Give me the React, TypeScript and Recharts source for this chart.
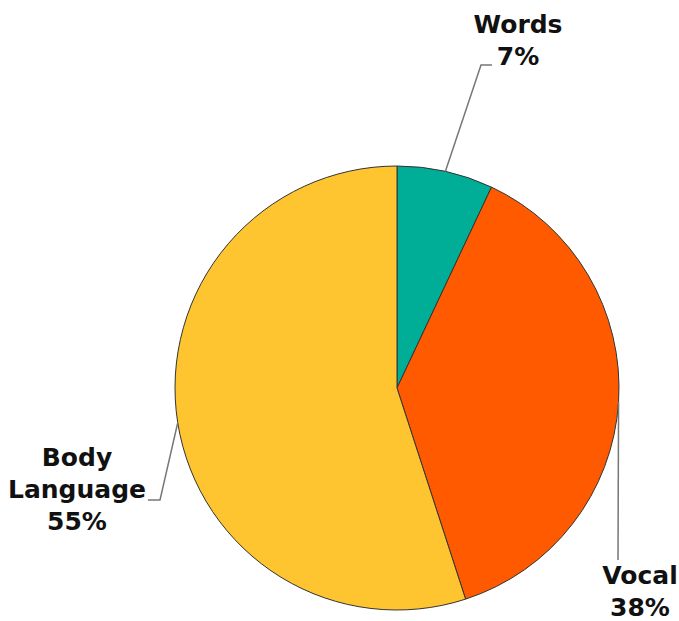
import { PieChart, Pie, Cell } from 'recharts';

const categories = ['Words', 'Vocal', 'Body Language'];
const shares = [7, 38, 55];
const COLORS = ['#00AE98', '#FF5A00', '#FFC530'];

// label placement: elbow point and text anchor, relative to chart center
const LABEL_LAYOUT = [
  { elbow: [84, -323], end: [95, -323], text: [121, -355], lines: ['Words'] },
  { elbow: [221, 172], end: [221, 172], text: [243, 196], lines: ['Vocal'] },
  { elbow: [-237, 112], end: [-249, 112], text: [-320, 78], lines: ['Body', 'Language'] },
];

const data = categories.map((name, i) => ({ name, value: shares[i] }));

const RADIAN = Math.PI / 180;
const LINE_H = 32;

function renderLabel(props: any) {
  const { cx, cy, midAngle, outerRadius, index, value } = props;
  const layout = LABEL_LAYOUT[index];
  const sx = cx + outerRadius * Math.cos(-midAngle * RADIAN);
  const sy = cy + outerRadius * Math.sin(-midAngle * RADIAN);
  const ex = cx + layout.elbow[0];
  const ey = cy + layout.elbow[1];
  const fx = cx + layout.end[0];
  const fy = cy + layout.end[1];
  const tx = cx + layout.text[0];
  const ty = cy + layout.text[1];
  const lines = [...layout.lines, `${value}%`];
  return (
    <g>
      <polyline
        points={`${sx},${sy} ${ex},${ey} ${fx},${fy}`}
        fill="none"
        stroke="#777"
        strokeWidth={1.5}
      />
      <text
        x={tx}
        y={ty}
        textAnchor="middle"
        fill="#111"
        fontFamily="'DejaVu Sans', Verdana, sans-serif"
        fontWeight="bold"
        fontSize={25}
      >
        {lines.map((l, i) => (
          <tspan key={i} x={tx} dy={i === 0 ? 0 : LINE_H}>
            {l}
          </tspan>
        ))}
      </text>
    </g>
  );
}

export default function App() {
  return (
    <div style={{ position: 'absolute', left: 0, top: 0, background: '#fff' }}>
      <PieChart width={679} height={621} margin={{ top: 0, right: 0, bottom: 0, left: 0 }}>
        <Pie
          data={data}
          dataKey="value"
          nameKey="name"
          cx={397}
          cy={388}
          outerRadius={222}
          startAngle={90}
          endAngle={-270}
          stroke="#333"
          strokeWidth={1}
          labelLine={false}
          label={renderLabel}
          isAnimationActive={false}
        >
          {data.map((entry, index) => (
            <Cell key={`cell-${index}`} fill={COLORS[index]} />
          ))}
        </Pie>
      </PieChart>
    </div>
  );
}
